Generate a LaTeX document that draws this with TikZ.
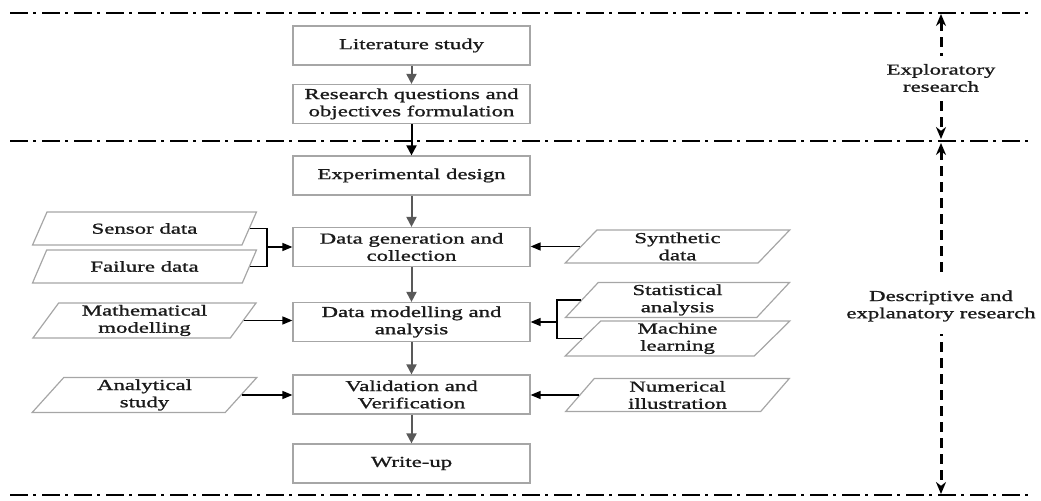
\documentclass[tikz,border=0pt]{standalone}
\usepackage{fontspec}
\setmainfont{Liberation Serif}[FakeStretch=1.5,FakeBold=1.2]
\usetikzlibrary{arrows.meta,shapes.geometric}
\definecolor{boxline}{HTML}{A6A6A6}
\definecolor{flowgray}{HTML}{595959}
\definecolor{txt}{HTML}{1A1A1A}
\begin{document}
\begin{tikzpicture}[x=0.5pt,y=-0.5pt,
    font=\fontsize{7.6}{8.6}\selectfont,
    every node/.style={text=txt,align=center},
    stage/.style={draw=boxline,line width=0.6pt,minimum width=118.5pt,
      minimum height=19.5pt,inner sep=1pt},
    datum/.style={draw=boxline,line width=0.6pt,trapezium,
      trapezium left angle=61,trapezium right angle=119,
      trapezium stretches=true,minimum width=112.5pt,
      minimum height=16.5pt,inner sep=1pt},
    divider/.style={line width=1pt,dash pattern=on 9pt off 2.5pt on 1.5pt off 3pt},
    phasearrow/.style={line width=1.5pt,dash pattern=on 5pt off 3pt,
      {Stealth[length=6pt,width=5pt]}-{Stealth[length=6pt,width=5pt]}},
    flow/.style={-{Triangle[length=5pt,width=5pt]},line width=1pt,flowgray},
    feed/.style={-{Triangle[length=5pt,width=4pt]},line width=0.7pt}]
  \useasboundingbox (0,0) rectangle (1041,501);
  % phase dividers
  \draw[divider] (10,13) -- (1032,13);
  \draw[divider] (10,141) -- (1032,141);
  \draw[divider] (10,495) -- (1032,495);
  \draw
    (411.5,45.5) node[stage] (lit){Literature study}
    (411.5,104) node[stage] (rq){Research questions and\\objectives formulation}
    (411.5,175.5) node[stage] (exp){Experimental design}
    (411.5,247) node[stage] (gen){Data generation and\\collection}
    (411.5,322) node[stage] (mod){Data modelling and\\analysis}
    (411.5,394.5) node[stage] (val){Validation and\\Verification}
    (411.5,463.5) node[stage] (wri){Write-up};
  \draw
    (144.5,228.5) node[datum] (sen){Sensor data}
    (144.5,266.5) node[datum] (fai){Failure data}
    (144.5,320.5) node[datum] (mat){Mathematical\\modelling}
    (144.5,395) node[datum] (ana){Analytical\\study}
    (677.5,246.5) node[datum] (syn){Synthetic\\data}
    (677.5,300) node[datum] (sta){Statistical\\analysis}
    (677.5,338.5) node[datum] (mac){Machine\\learning}
    (677.5,395) node[datum] (num){Numerical\\illustration};
  \coordinate (sj) at (267,247);
  \coordinate (mj) at (557,322);
  \begin{scope}[flow]
    \draw (lit) to (rq);
    \draw[black] (rq) to (exp);
    \draw (exp) to (gen);
    \draw (gen) to (mod);
    \draw (mod) to (val);
    \draw (val) to (wri);
  \end{scope}
  \begin{scope}[line width=0.7pt]
    \draw (sen.east) -| (sj) |- (fai.east);
    \draw (sta.west) -| (mj) |- (mac.west);
  \end{scope}
  \begin{scope}[feed]
    \draw (sj) to (gen.west);
    \draw (mj) to (mod.east);
    \draw (mat.east) to (mat.east -| mod.west);
    \draw (ana.east) to (ana.east -| val.west);
    \draw (syn.west) to (syn.west -| gen.east);
    \draw (num.west) to (num.west -| val.east);
  \end{scope}
  % research phases
  \coordinate (p1) at (941,14);
  \coordinate (p2) at (941,139);
  \coordinate (p3) at (941,143);
  \coordinate (p4) at (941,494);
  \draw[phasearrow] (p1) -- (p2);
  \draw[phasearrow] (p3) -- (p4);
  \node[fill=white,inner sep=4pt] (exr) at (941,78) {Exploratory\\research};
  \node[fill=white,inner sep=6pt] (der) at (941,306) {Descriptive and\\explanatory research};
\end{tikzpicture}
\end{document}
